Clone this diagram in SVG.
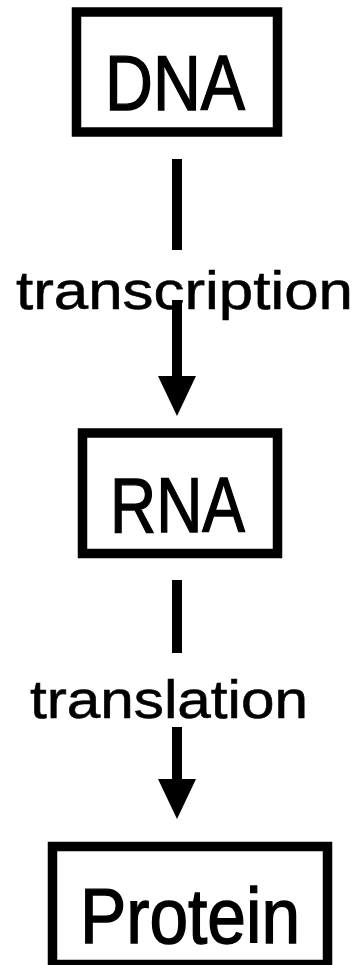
<svg xmlns="http://www.w3.org/2000/svg" width="355" height="965" viewBox="0 0 355 965">
<style>
.box{fill:#fff;stroke:#000;stroke-width:9.5}
.lbl{font-family:"Liberation Sans",Arial,sans-serif;fill:#000;text-anchor:middle}
.big{font-size:78px;stroke:#000;stroke-width:1.4}
.mid{font-size:54px;stroke:#000;stroke-width:0.6}
.conn{stroke:#000;stroke-width:10;fill:none}
</style>
<defs>
<marker id="ah" markerUnits="userSpaceOnUse" markerWidth="42" markerHeight="40" refX="0" refY="0" orient="auto" overflow="visible">
<path d="M0,-19 L40,0 L0,19 z" fill="#000"/>
</marker>
</defs>
<rect width="355" height="965" fill="#fff"/>
<g id="connectors">
<line class="conn" x1="177" y1="159" x2="177" y2="250"/>
<line class="conn" x1="177" y1="300" x2="177" y2="376" marker-end="url(#ah)"/>
<line class="conn" x1="177" y1="580" x2="177" y2="653"/>
<line class="conn" x1="177" y1="727" x2="177" y2="779" marker-end="url(#ah)"/>
<text class="lbl mid" x="184.5" y="309" textLength="337" lengthAdjust="spacingAndGlyphs">transcription</text>
<text class="lbl mid" x="169" y="718" textLength="278" lengthAdjust="spacingAndGlyphs">translation</text>
</g>
<g id="node-dna">
<rect class="box" x="76.5" y="12" width="201" height="120"/>
<text class="lbl big" x="175" y="110" textLength="140" lengthAdjust="spacingAndGlyphs">DNA</text>
</g>
<g id="node-rna">
<rect class="box" x="82.5" y="433" width="195" height="120.5"/>
<text class="lbl big" x="177.5" y="532" textLength="135" lengthAdjust="spacingAndGlyphs">RNA</text>
</g>
<g id="node-protein">
<rect class="box" x="52.5" y="846.5" width="275" height="118"/>
<text class="lbl big" x="190" y="943" textLength="220" lengthAdjust="spacingAndGlyphs">Protein</text>
</g>
</svg>
